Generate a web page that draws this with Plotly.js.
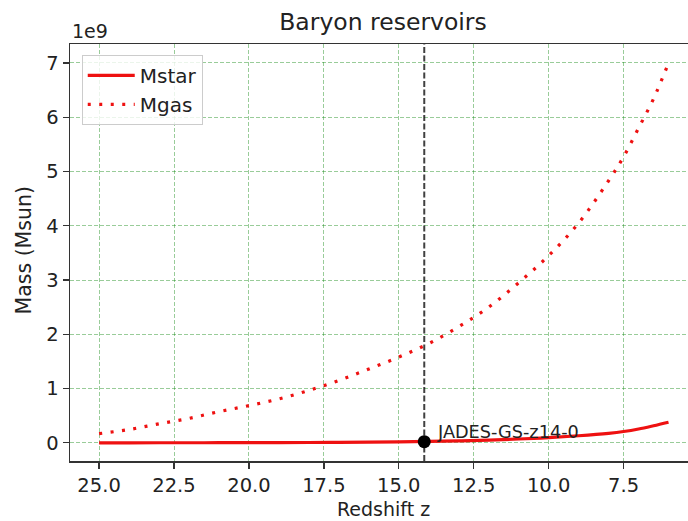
<!DOCTYPE html>
<html>
<head>
<meta charset="utf-8">
<script src="https://cdn.plot.ly/plotly-3.0.1.min.js"></script>
<style>
  html, body { margin: 0; padding: 0; background: #fff; }
  #chart { width: 688px; height: 521px; }
</style>
</head>
<body>
<div id="chart"></div>
<script>
// Redshift grid (descending: the universe ages left to right)
const redshift = [25.0, 24.0, 23.0, 22.0, 21.0, 20.0, 19.0, 18.0, 17.0, 16.0, 15.0,
                  14.0, 13.0, 12.0, 11.0, 10.0, 9.0, 8.0, 7.5, 7.0, 6.5, 6.0];

// Stellar mass, in units of 1e9 Msun
const mStar = [0.0005, 0.0007, 0.001, 0.0015, 0.002, 0.003, 0.004, 0.006, 0.009, 0.013, 0.018,
               0.025, 0.036, 0.050, 0.070, 0.095, 0.130, 0.175, 0.208, 0.255, 0.315, 0.380];

// Gas mass, in units of 1e9 Msun
const mGas = [0.17, 0.245, 0.35, 0.45, 0.575, 0.685, 0.81, 0.965, 1.15, 1.36, 1.58,
              1.83, 2.14, 2.50, 2.95, 3.45, 4.05, 4.83, 5.27, 5.80, 6.34, 7.00];

// Observed galaxy
const galaxyName = 'JADES-GS-z14-0';
const galaxyZ = 14.15;
const galaxyMstar = 0.022;

const xTicks = [25.0, 22.5, 20.0, 17.5, 15.0, 12.5, 10.0, 7.5];
const yTicks = [0, 1, 2, 3, 4, 5, 6, 7];

const RED = '#ee1111';
const FONT = 'DejaVu Sans, sans-serif';
const TXT = '#222222';

const traces = [
  {
    x: redshift, y: mStar, name: 'Mstar', type: 'scatter', mode: 'lines',
    line: { color: RED, width: 3.2, shape: 'spline' }
  },
  {
    x: redshift, y: mGas, name: 'Mgas', type: 'scatter', mode: 'lines',
    line: { color: RED, width: 3.2, dash: '3px,8.5px', shape: 'spline' }
  },
  {
    x: [galaxyZ], y: [galaxyMstar], type: 'scatter', mode: 'markers',
    marker: { color: '#000', size: 13 }, showlegend: false, hoverinfo: 'skip'
  }
];

const axisCommon = {
  showline: true, linecolor: '#333', linewidth: 1.5,
  ticks: 'outside', ticklen: 6, tickwidth: 1.3, tickcolor: '#333',
  tickfont: { family: FONT, size: 19.5, color: TXT },
  showgrid: true, gridcolor: 'rgba(0,128,0,0.4)', gridwidth: 1, griddash: '4px,2px',
  zeroline: false
};

const layout = {
  width: 688, height: 521,
  margin: { l: 70, r: 0, t: 44, b: 60 },
  paper_bgcolor: '#fff', plot_bgcolor: '#fff',
  font: { family: FONT, color: TXT },
  title: {
    text: 'Baryon reservoirs',
    font: { family: FONT, size: 23.5, color: TXT },
    xref: 'paper', x: 0.5065, xanchor: 'center',
    yref: 'container', y: 1 - 22 / 521, yanchor: 'middle'
  },
  xaxis: Object.assign({}, axisCommon, {
    range: [25.97, 5.35], tickvals: xTicks, tickformat: '.1f', mirror: true
  }),
  yaxis: Object.assign({}, axisCommon, {
    range: [-0.335, 7.35], tickvals: yTicks, mirror: false
  }),
  showlegend: true,
  legend: {
    x: 0.019, y: 0.974, xanchor: 'left', yanchor: 'top',
    bgcolor: 'rgba(255,255,255,0.8)', bordercolor: '#cccccc', borderwidth: 1,
    font: { family: FONT, size: 20, color: TXT },
    itemwidth: 47
  },
  shapes: [
    {
      type: 'line', xref: 'x', yref: 'paper', x0: galaxyZ, x1: galaxyZ, y0: 0, y1: 1,
      line: { color: 'rgba(0,0,0,0.75)', width: 2, dash: '6px,2.5px' }
    }
  ],
  annotations: [
    {
      text: galaxyName, x: galaxyZ, y: galaxyMstar, xref: 'x', yref: 'y',
      xanchor: 'left', yanchor: 'middle', xshift: 11, yshift: 10, showarrow: false,
      font: { family: FONT, size: 17.7, color: TXT }
    },
    {
      text: '1e9', xref: 'paper', yref: 'paper', x: 0, y: 1, xanchor: 'left', yanchor: 'middle',
      xshift: 0, yshift: 13, showarrow: false,
      font: { family: FONT, size: 19, color: TXT }
    },
    {
      text: 'Redshift z', xref: 'paper', yref: 'paper', x: (383.5 - 70) / 618, y: 0,
      xanchor: 'center', yanchor: 'bottom', yshift: -60, borderpad: 0, showarrow: false,
      font: { family: FONT, size: 19, color: TXT }
    },
    {
      text: 'Mass (Msun)', xref: 'paper', yref: 'paper', x: 0, y: 0.5,
      xanchor: 'center', yanchor: 'middle', xshift: -47, yshift: 2, textangle: -90, showarrow: false,
      font: { family: FONT, size: 20.5, color: TXT }
    }
  ]
};

Plotly.newPlot('chart', traces, layout, { displayModeBar: false, staticPlot: true });
</script>
</body>
</html>
